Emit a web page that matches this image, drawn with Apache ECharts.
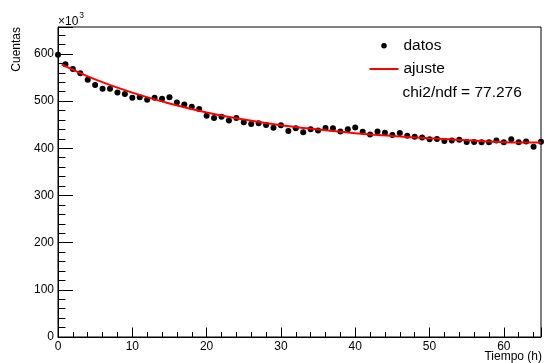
<!DOCTYPE html>
<html>
<head>
<meta charset="utf-8">
<script src="https://cdn.jsdelivr.net/npm/echarts@6/dist/echarts.min.js"></script>
<style>
  html, body { margin: 0; padding: 0; background: #fff; }
  #chart { width: 544px; height: 363px; }
</style>
</head>
<body>
<div id="chart"></div>
<script>
// Measured counts (in units of 10^3) per hour
const hours = [
  0, 1, 2, 3, 4, 5, 6, 7, 8, 9,
  10, 11, 12, 13, 14, 15, 16, 17, 18, 19,
  20, 21, 22, 23, 24, 25, 26, 27, 28, 29,
  30, 31, 32, 33, 34, 35, 36, 37, 38, 39,
  40, 41, 42, 43, 44, 45, 46, 47, 48, 49,
  50, 51, 52, 53, 54, 55, 56, 57, 58, 59,
  60, 61, 62, 63, 64, 65
];
const counts = [
  598, 578, 568, 559, 545, 534, 526, 526, 518, 515,
  507, 508, 503, 507, 505, 508, 497, 493, 488, 483,
  469, 464, 467, 459, 464, 455, 451.5, 453, 449.4, 443.6,
  448.7, 436.7, 442.4, 434, 440.5, 437.5, 442.7, 442.2, 435.5, 440.5,
  444, 435, 429.3, 435.5, 433, 428, 432.5, 426.7, 424.6, 422.7,
  419.3, 419.8, 415.4, 416.5, 418, 413.4, 413.4, 412.5, 412.5, 416.2,
  413, 419, 413, 414.4, 403, 413.8
];

// Fitted curve, sampled along the time range
const fitHours = [0.5, 5, 10, 15, 20, 25, 30, 35, 40, 45, 50, 55, 60, 65];
const fitCounts = [578, 546, 518, 495, 476, 461, 449, 440, 432, 426, 421, 417, 413, 412];

const xTickLabels = ['0', '10', '20', '30', '40', '50', '60'];
const yTickLabels = ['0', '100', '200', '300', '400', '500', '600'];

const FONT = 'Liberation Sans, Arial, Helvetica, sans-serif';
const X_MAX = 65;
const Y_MAX = 657;

const chart = echarts.init(document.getElementById('chart'), null, { renderer: 'canvas' });

const labelOf = (list, step) => (v) => {
  const idx = Math.round(v / step);
  return (Math.abs(v - idx * step) < 1e-6 && list[idx] !== undefined) ? list[idx] : '';
};

chart.setOption({
  animation: false,
  backgroundColor: '#ffffff',
  grid: {
    left: 58, right: 1, top: 27, bottom: 26,
    show: true, borderColor: '#000', borderWidth: 1, backgroundColor: 'transparent'
  },
  xAxis: [
    {
      type: 'value', position: 'bottom', min: 0, max: X_MAX, interval: 10,
      axisLine: { show: true, lineStyle: { color: '#000', width: 1 } },
      axisTick: { show: true, inside: true, length: 9.5, lineStyle: { color: '#000', width: 1 } },
      axisLabel: { show: true, margin: 4, color: '#000', fontSize: 12, fontFamily: FONT,
                   formatter: labelOf(xTickLabels, 10) },
      splitLine: { show: false }
    },
    {
      type: 'value', position: 'bottom', min: 0, max: X_MAX, interval: 2,
      axisLine: { show: false },
      axisTick: { show: true, inside: true, length: 5, lineStyle: { color: '#000', width: 1 } },
      axisLabel: { show: false },
      splitLine: { show: false }
    }
  ],
  yAxis: [
    {
      type: 'value', position: 'left', min: 0, max: Y_MAX, interval: 100,
      axisLine: { show: true, lineStyle: { color: '#000', width: 1 } },
      axisTick: { show: true, inside: true, length: 15, lineStyle: { color: '#000', width: 1 } },
      axisLabel: { show: true, margin: 4, color: '#000', fontSize: 12, fontFamily: FONT,
                   formatter: labelOf(yTickLabels, 100) },
      splitLine: { show: false }
    },
    {
      type: 'value', position: 'left', min: 0, max: Y_MAX, interval: 20,
      axisLine: { show: false },
      axisTick: { show: true, inside: true, length: 7.5, lineStyle: { color: '#000', width: 1 } },
      axisLabel: { show: false },
      splitLine: { show: false }
    }
  ],
  legend: {
    orient: 'vertical', left: 368.5, top: 37.7, padding: 0,
    itemWidth: 29, itemHeight: 5.5, itemGap: 7.3,
    textStyle: { color: '#000', fontSize: 15.5, lineHeight: 16, fontFamily: FONT },
    data: [
      { name: 'datos', icon: 'circle', itemStyle: { color: '#000', opacity: 1 } },
      { name: 'ajuste', itemStyle: { opacity: 0 }, lineStyle: { color: '#ff0000', width: 2 } }
    ]
  },
  series: [
    {
      name: 'datos', type: 'scatter', xAxisIndex: 0, yAxisIndex: 0,
      symbol: 'circle', symbolSize: 6, clip: false,
      itemStyle: { color: '#000', opacity: 1 },
      data: hours.map((h, i) => [h, counts[i]]),
      z: 2
    },
    {
      name: 'ajuste', type: 'line', xAxisIndex: 0, yAxisIndex: 0,
      smooth: 0.4, symbol: 'none',
      lineStyle: { color: '#ff0000', width: 2 },
      itemStyle: { color: '#ff0000' },
      data: fitHours.map((h, i) => [h, fitCounts[i]]),
      z: 3
    }
  ],
  graphic: [
    { type: 'text', x: 17, y: 27, rotation: Math.PI / 2,
      style: { text: 'Cuentas', fill: '#000', fontSize: 12, fontFamily: FONT, align: 'right', verticalAlign: 'middle' } },
    { type: 'text', x: 58, y: 21.5,
      style: { text: '×10', fill: '#000', fontSize: 12, fontFamily: FONT, align: 'left', verticalAlign: 'middle' } },
    { type: 'text', x: 79.3, y: 16,
      style: { text: '3', fill: '#000', fontSize: 8.5, fontFamily: FONT, align: 'left', verticalAlign: 'middle' } },
    { type: 'text', x: 542, y: 356.5,
      style: { text: 'Tiempo (h)', fill: '#000', fontSize: 12, fontFamily: FONT, align: 'right', verticalAlign: 'middle' } },
    { type: 'text', x: 402.5, y: 92.7,
      style: { text: 'chi2/ndf = 77.276', fill: '#000', fontSize: 15.5, fontFamily: FONT, align: 'left', verticalAlign: 'middle' } }
  ]
});
</script>
</body>
</html>
